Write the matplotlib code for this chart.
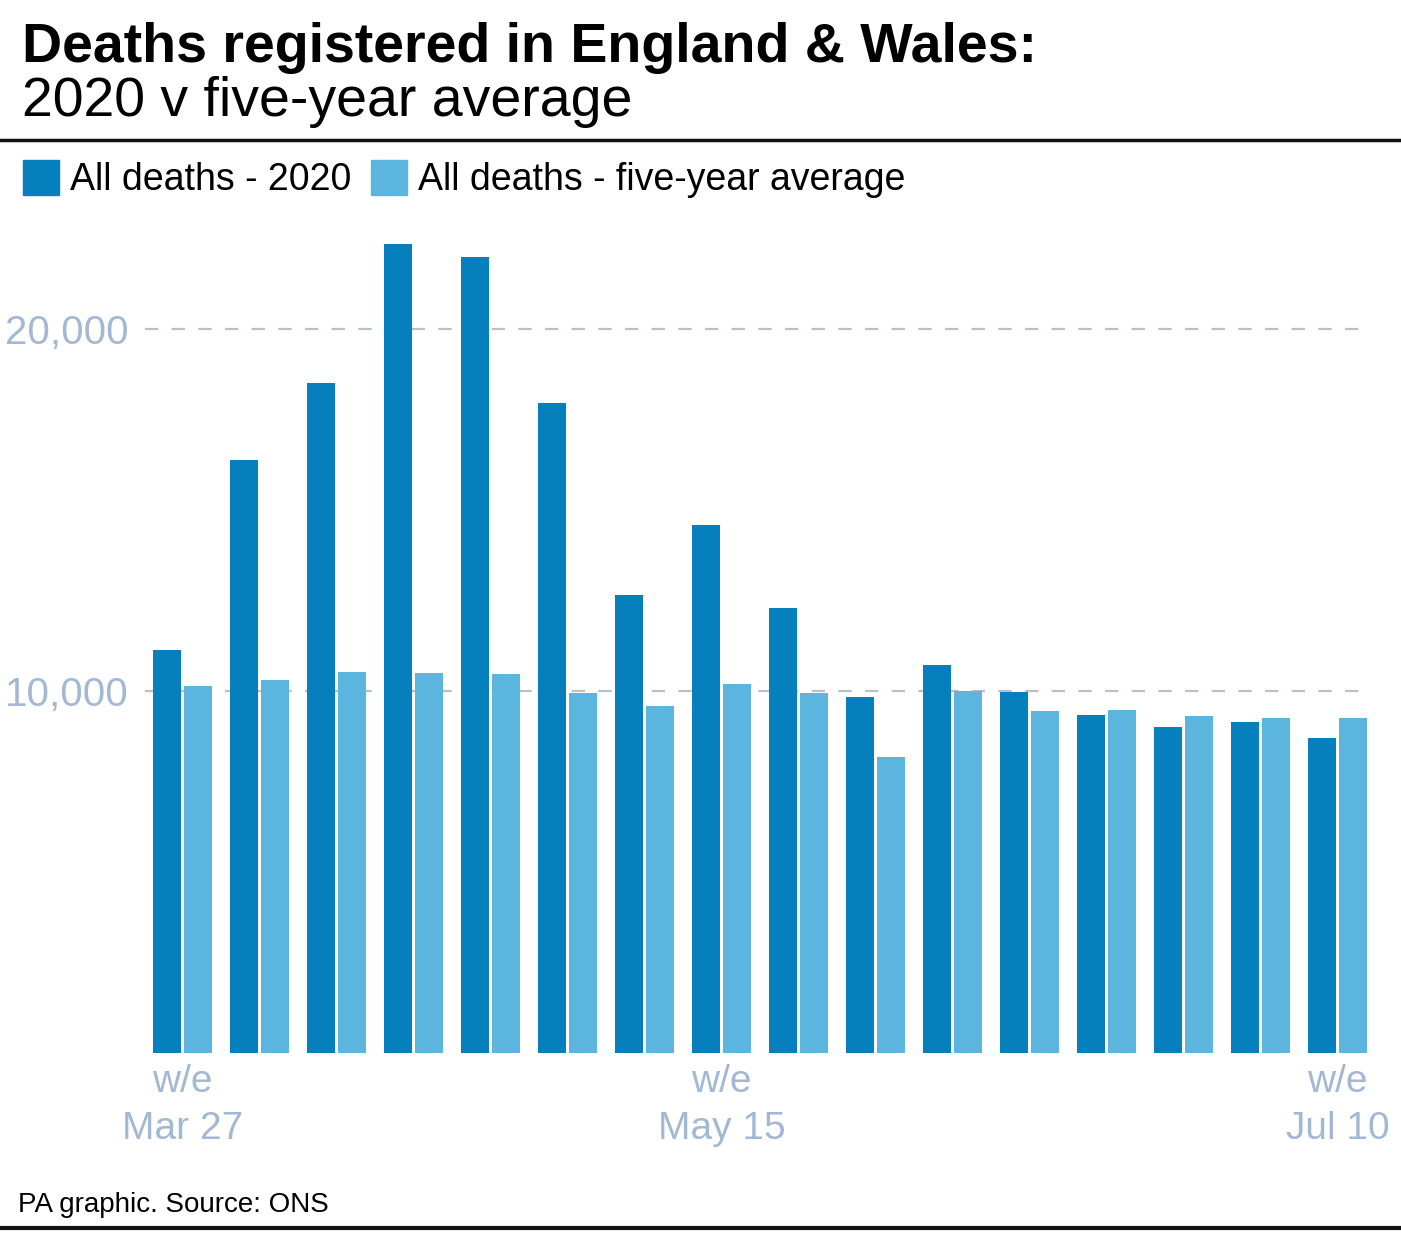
import matplotlib.pyplot as plt
import matplotlib.lines as mlines
import matplotlib.patches as mpatches
import numpy as np

# weekly deaths, England & Wales, w/e Mar 27 .. Jul 10
weeks = ["Mar 27", "Apr 3", "Apr 10", "Apr 17", "Apr 24", "May 1", "May 8",
         "May 15", "May 22", "May 29", "Jun 5", "Jun 12", "Jun 19", "Jun 26",
         "Jul 3", "Jul 10"]
deaths_2020 = [11141, 16387, 18516, 22351, 21997, 17953, 12657, 14573,
               12288, 9824, 10709, 9976, 9339, 9005, 9140, 8690]
deaths_avg = [10130, 10305, 10520, 10497, 10458, 9941, 9576, 10188,
              9940, 8171, 10000, 9448, 9463, 9323, 9247, 9253]
tick_weeks = ["Mar 27", "May 15", "Jul 10"]

dark = "#0580bd"
light = "#5bb5df"
grey_txt = "#a3b8d3"

plt.rcParams['font.family'] = ['Liberation Sans', 'DejaVu Sans']

fig = plt.figure(figsize=(14.01, 12.42), dpi=100)

ax = fig.add_axes([145/1401, 189/1242, (1367-145)/1401, (1053-230)/1242])
x = np.arange(len(weeks))
ax.bar(x - 0.2, deaths_2020, width=0.36, color=dark, zorder=2)
ax.bar(x + 0.2, deaths_avg, width=0.36, color=light, zorder=2)

ax.set_xlim(-0.487, 15.383)
ax.set_ylim(0, 22735)
for v in [10000, 20000]:
    ax.axhline(v, color="#b7c0cb", lw=1.6, dashes=(6, 6), zorder=1)
ax.set_yticks([10000, 20000])
ax.set_yticklabels(["10,000", "20,000"])
ax.tick_params(axis='y', length=0, pad=12, labelsize=29, labelcolor=grey_txt)
tpos = [weeks.index(w) for w in tick_weeks]
ax.set_xticks(tpos)
ax.set_xticklabels(["w/e\n" + w for w in tick_weeks], linespacing=1.4)
ax.tick_params(axis='x', length=0, pad=8, labelsize=28, labelcolor=grey_txt)
for s in ax.spines.values():
    s.set_visible(False)

# title
fig.text(22/1401, 1 - 62/1242, "Deaths registered in England & Wales:",
         fontsize=40, fontweight='bold', va='baseline', ha='left')
fig.text(22/1401, 1 - 116/1242, "2020 v five-year average",
         fontsize=40, va='baseline', ha='left')
fig.add_artist(mlines.Line2D([0, 1], [1 - 140/1242, 1 - 140/1242], color="#111111", lw=2.5))

# legend
fig.add_artist(mpatches.Rectangle((23/1401, 1 - 195/1242), 36/1401, 35/1242, color=dark))
fig.text(70/1401, 1 - 190/1242, "All deaths - 2020", fontsize=27, va='baseline', ha='left')
fig.add_artist(mpatches.Rectangle((371/1401, 1 - 195/1242), 36/1401, 35/1242, color=light))
fig.text(418/1401, 1 - 190/1242, "All deaths - five-year average", fontsize=27, va='baseline', ha='left')

# source
fig.text(18/1401, 1 - 1212/1242, "PA graphic. Source: ONS", fontsize=20, va='baseline', ha='left')
fig.add_artist(mlines.Line2D([0, 1], [1 - 1228/1242, 1 - 1228/1242], color="#111111", lw=3))

fig.savefig("out.png", dpi=100)
